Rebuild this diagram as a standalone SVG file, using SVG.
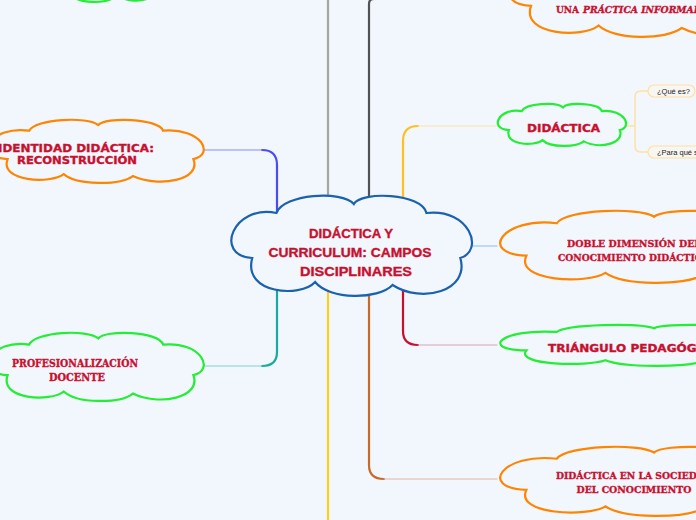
<svg xmlns="http://www.w3.org/2000/svg" xmlns:xlink="http://www.w3.org/1999/xlink" width="696" height="520" viewBox="0 0 696 520">
<style>
.cloud{fill:#f2f6fd;stroke-width:2.2}
.green{stroke:#22ee33}
.orange{stroke:#ff8500}
.blue{stroke:#1a62ad}
.t{fill:#c8102e;font-weight:700;stroke:#c8102e;stroke-width:0.35}
.wide{font-family:"DejaVu Sans","Liberation Sans",sans-serif}
.slab{font-family:"DejaVu Serif","Liberation Serif",serif}
.main{font-family:"Liberation Sans","Open Sans",sans-serif;font-size:13px}
.c{fill:none;stroke-linecap:round}
.pill{fill:#f8f6f2;stroke:#ffe0a0;stroke-width:1.2}
.sub{font-family:"Liberation Sans",Arial,sans-serif;font-size:7.5px;fill:#222}
</style>
<defs>
<path id="cloud" vector-effect="non-scaling-stroke" d="M10,62 C-6,60 2,8 20,17 C23,-2 47,-6 52,8 C55,-5 80,-3 82,17 C100,12 106,55 96,62 C100,95 80,108 68,89 C62,104 42,104 36,86 C30,102 6,98 10,62 Z"/>
</defs>
<rect width="696" height="520" fill="#f2f6fd"/>
<g id="connectors">
<path class="c" d="M277,213 V165 Q277,150 262,150" stroke="#4b4bf5" stroke-width="2.2"/>
<path class="c" d="M262,150 H200" stroke="#8c8cff" stroke-width="1"/>
<path class="c" d="M328,197 V-2" stroke="#a3a89f" stroke-width="2.2"/>
<path class="c" d="M369,199 V4 Q369,-1 374,-1" stroke="#505457" stroke-width="2.2"/>
<path class="c" d="M403,203 V141 Q403,126 418,126" stroke="#ffbf1f" stroke-width="2.2"/>
<path class="c" d="M418,126 H497" stroke="#ffe2a6" stroke-width="1"/>
<path class="c" d="M470,246 H497" stroke="#a8d4f5" stroke-width="1.4"/>
<path class="c" d="M277,287 V352 Q277,366 262,366" stroke="#1aa9a0" stroke-width="2.2"/>
<path class="c" d="M262,366 H200" stroke="#7fd3cf" stroke-width="1"/>
<path class="c" d="M328,291 V522" stroke="#f8d21c" stroke-width="2.2"/>
<path class="c" d="M369,294 V465 Q369,479 384,479" stroke="#c86a2a" stroke-width="2.2"/>
<path class="c" d="M384,479 H497" stroke="#e2b4a0" stroke-width="1"/>
<path class="c" d="M403,288 V331 Q403,345 418,345" stroke="#c8102e" stroke-width="2.2"/>
<path class="c" d="M418,345 H497" stroke="#e0a0ad" stroke-width="1"/>
<path class="c" d="M625,126 H635 M648,91 H641 Q635,91 635,97 V146 Q635,152 641,152 H648" stroke="#ffe0a0" stroke-width="1.4"/>
</g>
<g id="node-top-left">
<use href="#cloud" class="cloud green" transform="translate(15,-60) scale(1.5,0.62)"/>
</g>
<g id="node-identidad">
<use href="#cloud" class="cloud orange" transform="translate(-14,120) scale(2.16,0.63)"/>
<text class="t wide" font-size="11" text-anchor="middle" x="76" y="152" textLength="156" lengthAdjust="spacingAndGlyphs">IDENTIDAD DIDÁCTICA:</text>
<text class="t wide" font-size="11" text-anchor="middle" x="77" y="164" textLength="120" lengthAdjust="spacingAndGlyphs">RECONSTRUCCIÓN</text>
</g>
<g id="node-profesionalizacion">
<use href="#cloud" class="cloud green" transform="translate(-14,333) scale(2.16,0.68)"/>
<text class="t slab" font-size="10.5" text-anchor="middle" x="75" y="367" textLength="126" lengthAdjust="spacingAndGlyphs">PROFESIONALIZACIÓN</text>
<text class="t slab" font-size="10.5" text-anchor="middle" x="77" y="381" textLength="56" lengthAdjust="spacingAndGlyphs">DOCENTE</text>
</g>
<g id="node-center">
<use href="#cloud" class="cloud blue" transform="translate(228,196) scale(2.42,1.0)"/>
<text class="t main" text-anchor="middle" x="351" y="238" textLength="84" lengthAdjust="spacingAndGlyphs">DIDÁCTICA Y</text>
<text class="t main" text-anchor="middle" x="350" y="257" textLength="163" lengthAdjust="spacingAndGlyphs">CURRICULUM: CAMPOS</text>
<text class="t main" text-anchor="middle" x="356" y="276" textLength="112" lengthAdjust="spacingAndGlyphs">DISCIPLINARES</text>
</g>
<g id="node-practica">
<use href="#cloud" class="cloud orange" transform="translate(505,-45) scale(2.6,0.82)"/>
<text class="t slab" font-size="10" x="556" y="13" textLength="23" lengthAdjust="spacingAndGlyphs">UNA</text>
<text class="t slab" font-size="10" font-style="italic" x="583" y="13" textLength="126" lengthAdjust="spacingAndGlyphs">PRÁCTICA INFORMADA</text>
</g>
<g id="node-didactica">
<use href="#cloud" class="cloud green" transform="translate(496,104) scale(1.29,0.42)"/>
<text class="t wide" font-size="10" text-anchor="middle" x="563.5" y="132" textLength="73" lengthAdjust="spacingAndGlyphs">DIDÁCTICA</text>
</g>
<g id="node-que-es">
<rect class="pill" x="648" y="85" width="47" height="12" rx="6"/>
<text class="sub" x="657" y="94">¿Qué es?</text>
</g>
<g id="node-para-que">
<rect class="pill" x="648" y="146" width="80" height="12" rx="6"/>
<text class="sub" x="657" y="155">¿Para qué sirve?</text>
</g>
<g id="node-doble">
<use href="#cloud" class="cloud orange" transform="translate(496,211) scale(3.04,0.72)"/>
<text class="t slab" font-size="10" text-anchor="middle" x="634" y="247" textLength="134" lengthAdjust="spacingAndGlyphs">DOBLE DIMENSIÓN DEL</text>
<text class="t slab" font-size="10" text-anchor="middle" x="634" y="261" textLength="152" lengthAdjust="spacingAndGlyphs">CONOCIMIENTO DIDÁCTICO</text>
</g>
<g id="node-triangulo">
<use href="#cloud" class="cloud green" transform="translate(496,325) scale(3.04,0.41)"/>
<text class="t wide" font-size="10.5" x="548" y="352" textLength="172" lengthAdjust="spacingAndGlyphs">TRIÁNGULO PEDAGÓGICO</text>
</g>
<g id="node-sociedad">
<use href="#cloud" class="cloud orange" transform="translate(496,447) scale(3.04,0.69)"/>
<text class="t slab" font-size="10" text-anchor="middle" x="634" y="479" textLength="156" lengthAdjust="spacingAndGlyphs">DIDÁCTICA EN LA SOCIEDAD</text>
<text class="t slab" font-size="10" text-anchor="middle" x="634" y="493" textLength="115" lengthAdjust="spacingAndGlyphs">DEL CONOCIMIENTO</text>
</g>
</svg>
